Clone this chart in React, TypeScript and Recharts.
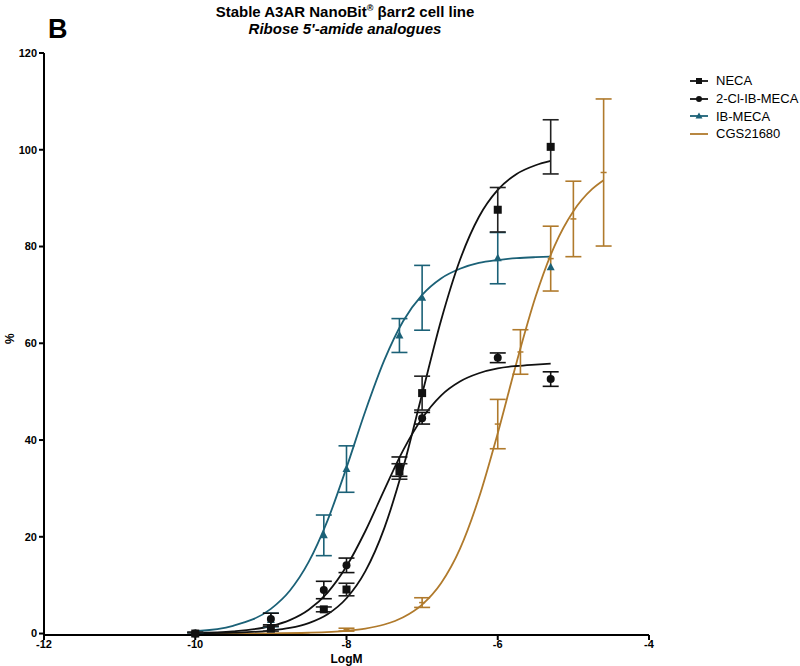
import React from 'react';
import { ComposedChart, Line, Scatter, ErrorBar, XAxis, YAxis } from 'recharts';

const FONT = "Arial, 'Liberation Sans', sans-serif";
const TEAL = '#1b6177';
const BROWN = '#b07a2c';
const BLACK = '#111111';

// measured doses (log M)
const doseX = [-10, -9, -8.3, -8, -7.3, -7, -6, -5.3];
const cgsDoseX = [-8, -7, -6, -5.7, -5.3, -5, -4.6];

// mean response (%) and SEM
const necaY = [0, 1.0, 5.0, 9.1, 33.5, 49.7, 87.6, 100.6];
const necaErr = [0.3, 0.5, 0.5, 1.3, 1.6, 3.5, 4.6, 5.6];
const clIbMecaY = [0, 3.0, 9.0, 14.1, 34.5, 44.5, 57.0, 52.6];
const clIbMecaErr = [0.2, 1.2, 1.8, 1.5, 2.0, 1.2, 1.0, 1.5];
const ibMecaY = [0, 2.8, 20.3, 34.0, 61.6, 69.4, 77.6, 75.7];
const ibMecaErr = [0.2, 1.4, 4.2, 4.8, 3.5, 6.7, 5.3, 0];
const cgsY = [0.8, 6.4, 43.3, 58.2, 77.5, 85.7, 95.3];
const cgsErr = [0.3, 1.0, 5.1, 4.6, 6.7, 7.8, 15.2];

// fitted curves
const curveX = [-10, -9.5, -9, -8.75, -8.5, -8.25, -8, -7.75, -7.5, -7.25, -7, -6.75, -6.5, -6.25, -6, -5.75, -5.5, -5.3];
const necaFit = [0.05, 0.18, 0.62, 1.16, 2.17, 4.0, 7.3, 12.9, 21.8, 34.3, 49.5, 64.7, 77.2, 86.1, 91.7, 95.0, 96.8, 97.7];
const clIbMecaFit = [0.13, 0.46, 1.53, 2.77, 4.92, 8.47, 13.9, 21.2, 29.7, 37.9, 44.5, 49.2, 52.1, 53.8, 54.8, 55.3, 55.6, 55.8];
const ibMecaFit = [0.48, 1.6, 5.1, 8.85, 14.8, 23.4, 34.3, 46.0, 56.5, 64.6, 70.0, 73.4, 75.4, 76.6, 77.2, 77.6, 77.8, 77.9];
const cgsCurveX = [-10, -9.5, -9, -8.5, -8, -7.75, -7.5, -7.25, -7, -6.75, -6.5, -6.25, -6, -5.75, -5.5, -5.25, -5, -4.75, -4.6];
const cgsFit = [0.0, 0.02, 0.05, 0.17, 0.57, 1.03, 1.87, 3.37, 5.99, 10.4, 17.5, 28.0, 41.4, 56.1, 69.6, 80.1, 87.3, 91.9, 93.7];

const xTicks = [-12, -10, -8, -6, -4];
const yTicks = [0, 20, 40, 60, 80, 100, 120];

const toPoints = (xs: number[], ys: number[], errs?: number[]) =>
  xs.map((x, i) => ({ x, y: ys[i], err: errs ? errs[i] : 0 }));

const Square = (props: any) => (
  <rect x={props.cx - 4} y={props.cy - 4} width={8} height={8} fill={BLACK} />
);
const Dot = (props: any) => <circle cx={props.cx} cy={props.cy} r={4} fill={BLACK} />;
const Tri = (props: any) => (
  <polygon
    points={`${props.cx},${props.cy - 4.5} ${props.cx - 4},${props.cy + 3} ${props.cx + 4},${props.cy + 3}`}
    fill={TEAL}
  />
);
const Dash = (props: any) => (
  <line x1={props.cx - 3} x2={props.cx + 3} y1={props.cy} y2={props.cy} stroke={BROWN} strokeWidth={1.5} />
);

const legendItems = [
  { name: 'NECA', color: BLACK, mark: 'square' },
  { name: '2-Cl-IB-MECA', color: BLACK, mark: 'circle' },
  { name: 'IB-MECA', color: TEAL, mark: 'triangle' },
  { name: 'CGS21680', color: BROWN, mark: 'none' },
];

const LegendIcon = ({ color, mark }: { color: string; mark: string }) => (
  <svg width={20} height={10} style={{ marginRight: 7 }}>
    <line x1={1} x2={19} y1={5} y2={5} stroke={color} strokeWidth={1.8} />
    {mark === 'square' && <rect x={7} y={2} width={6} height={6} fill={color} />}
    {mark === 'circle' && <circle cx={10} cy={5} r={3} fill={color} />}
    {mark === 'triangle' && <polygon points="10,1.5 6.5,7.5 13.5,7.5" fill={color} />}
  </svg>
);

const axisTick = { fill: '#000', fontSize: 11, fontWeight: 'bold', fontFamily: FONT };

export default function App() {
  return (
    <div style={{ position: 'absolute', left: 0, top: 0, width: 800, height: 666, background: '#fff', fontFamily: FONT }}>
      <div style={{ position: 'absolute', left: 48, top: 16, fontSize: 27, fontWeight: 'bold', lineHeight: '27px' }}>B</div>
      <div style={{ position: 'absolute', left: 0, width: 690, top: 3, textAlign: 'center', fontSize: 15, fontWeight: 'bold', lineHeight: '17px' }}>
        <div>
          Stable A3AR NanoBit<sup style={{ fontSize: 9, lineHeight: 0 }}>®</sup> βarr2 cell line
        </div>
        <div style={{ fontStyle: 'italic' }}>Ribose 5'-amide analogues</div>
      </div>

      <ComposedChart width={800} height={666} margin={{ top: 53, right: 151, bottom: 0, left: 0 }}>
        <XAxis
          type="number"
          dataKey="x"
          domain={[-12, -4]}
          ticks={xTicks}
          tick={axisTick}
          tickSize={5}
          tickMargin={0}
          height={31}
          axisLine={{ stroke: '#000', strokeWidth: 2 }}
          tickLine={{ stroke: '#000', strokeWidth: 2 }}
          label={{ value: 'LogM', position: 'insideBottom', offset: 3, fill: '#000', fontSize: 12, fontWeight: 'bold', fontFamily: FONT }}
        />
        <YAxis
          type="number"
          domain={[0, 120]}
          ticks={yTicks}
          tick={axisTick}
          tickSize={5}
          width={44}
          axisLine={{ stroke: '#000', strokeWidth: 2 }}
          tickLine={{ stroke: '#000', strokeWidth: 2 }}
          label={{ value: '%', angle: -90, position: 'insideLeft', offset: 10, fill: '#000', fontSize: 12, fontWeight: 'bold', fontFamily: FONT }}
        />

        <Line data={toPoints(curveX, ibMecaFit)} dataKey="y" type="monotone" stroke={TEAL} strokeWidth={1.8} dot={false} activeDot={false} isAnimationActive={false} />
        <Line data={toPoints(cgsCurveX, cgsFit)} dataKey="y" type="monotone" stroke={BROWN} strokeWidth={1.8} dot={false} activeDot={false} isAnimationActive={false} />
        <Line data={toPoints(curveX, clIbMecaFit)} dataKey="y" type="monotone" stroke={BLACK} strokeWidth={1.8} dot={false} activeDot={false} isAnimationActive={false} />
        <Line data={toPoints(curveX, necaFit)} dataKey="y" type="monotone" stroke={BLACK} strokeWidth={1.8} dot={false} activeDot={false} isAnimationActive={false} />

        <Scatter data={toPoints(cgsDoseX, cgsY, cgsErr)} dataKey="y" shape={Dash} isAnimationActive={false}>
          <ErrorBar dataKey="err" direction="y" width={8} stroke={BROWN} strokeWidth={1.6} />
        </Scatter>
        <Scatter data={toPoints(doseX, ibMecaY, ibMecaErr)} dataKey="y" shape={Tri} isAnimationActive={false}>
          <ErrorBar dataKey="err" direction="y" width={8} stroke={TEAL} strokeWidth={1.6} />
        </Scatter>
        <Scatter data={toPoints(doseX, clIbMecaY, clIbMecaErr)} dataKey="y" shape={Dot} isAnimationActive={false}>
          <ErrorBar dataKey="err" direction="y" width={8} stroke={BLACK} strokeWidth={1.6} />
        </Scatter>
        <Scatter data={toPoints(doseX, necaY, necaErr)} dataKey="y" shape={Square} isAnimationActive={false}>
          <ErrorBar dataKey="err" direction="y" width={8} stroke="#222" strokeWidth={1.6} />
        </Scatter>
      </ComposedChart>

      <div style={{ position: 'absolute', left: 689, top: 72, fontSize: 13, color: '#000' }}>
        {legendItems.map((it) => (
          <div key={it.name} style={{ display: 'flex', alignItems: 'center', height: 17.7 }}>
            <LegendIcon color={it.color} mark={it.mark} />
            <span>{it.name}</span>
          </div>
        ))}
      </div>
    </div>
  );
}
